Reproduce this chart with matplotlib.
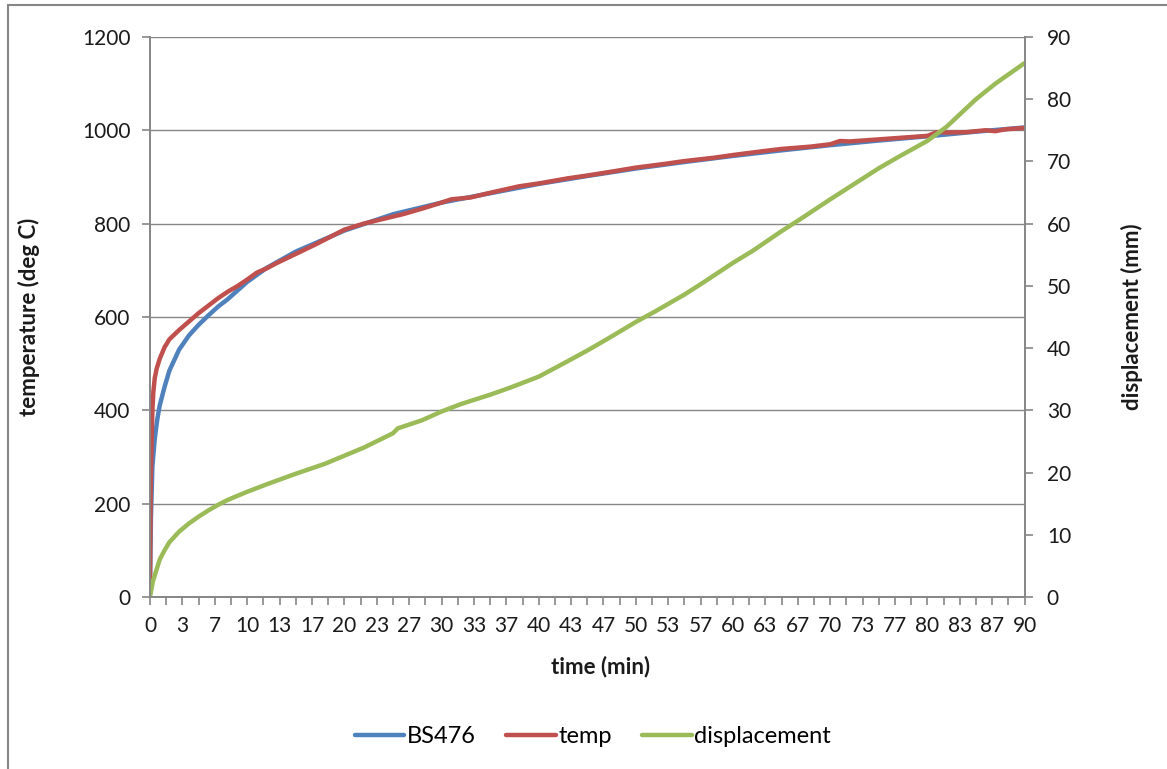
import matplotlib.pyplot as plt
import numpy as np
from matplotlib.patches import Rectangle

plt.rcParams["font.family"] = ["Lato", "DejaVu Sans"]

# values
bs476_t = [0, 0.1, 0.25, 0.5, 0.75, 1, 1.5, 2, 3, 4, 5, 6, 7, 8, 10, 12, 15,
           20, 25, 30, 35, 40, 45, 50, 55, 60, 65, 70, 75, 80, 85, 90]
bs476_v = [20, 170, 280, 340, 380, 410, 450, 485, 530, 560, 583, 603, 622, 638,
           675, 705, 740, 785, 820, 845, 865, 885, 902, 918, 932, 945, 957, 968,
           978, 987, 997, 1006]

temp_t = [0, 0.08, 0.17, 0.25, 0.35, 0.5, 0.7, 1, 1.5, 2, 3, 4, 5, 6, 7, 8, 9,
          10, 11, 12, 13, 15, 17, 20, 22, 24, 26, 28, 30, 31, 33, 35, 38, 40,
          43, 45, 48, 50, 53, 55, 58, 60, 63, 65, 68, 70, 71, 72, 74, 76, 78,
          80, 81, 82, 84, 86, 87, 88, 90]
temp_v = [20, 250, 330, 400, 440, 470, 490, 510, 535, 552, 572, 590, 608, 624,
          640, 654, 666, 680, 695, 704, 715, 735, 755, 787, 800, 810, 820, 832,
          845, 852, 856, 866, 880, 886, 897, 903, 913, 920, 928, 934, 941, 947,
          955, 960, 965, 970, 977, 976, 979, 982, 985, 988, 996, 995, 996, 1000,
          998, 1002, 1005]

disp_t = [0, 0.3, 0.7, 1, 1.5, 2, 3, 4, 5, 6, 7, 8, 10, 12, 15, 18, 20, 22, 25,
          25.5, 28, 30, 32, 35, 37, 40, 43, 45, 47, 50, 52, 55, 57, 60, 62, 65,
          67, 70, 72, 75, 77, 80, 82, 85, 87, 90]
disp_v = [0, 2.5, 4.5, 6, 7.5, 8.8, 10.5, 11.8, 12.9, 13.9, 14.8, 15.6, 16.9,
          18.1, 19.8, 21.4, 22.7, 24, 26.3, 27.1, 28.4, 29.8, 31, 32.5, 33.6,
          35.4, 37.9, 39.6, 41.4, 44.2, 45.9, 48.6, 50.6, 53.7, 55.6, 58.8,
          60.8, 63.9, 65.9, 68.9, 70.7, 73.3, 75.6, 80.0, 82.5, 85.8]

x_labels = ["0", "3", "7", "10", "13", "17", "20", "23", "27", "30", "33", "37",
            "40", "43", "47", "50", "53", "57", "60", "63", "67", "70", "73",
            "77", "80", "83", "87", "90"]

grey = "#868686"
txt = "#1a1a1a"

fig = plt.figure(figsize=(11.67, 7.69), dpi=100)
ax = fig.add_axes([0.1285, 0.2237, 0.7495, 0.7283])
ax2 = ax.twinx()

l1, = ax.plot(bs476_t, bs476_v, color="#4F81BD", lw=3.2, label="BS476",
              solid_capstyle="round")
l2, = ax.plot(temp_t, temp_v, color="#C0504D", lw=3.2, label="temp",
              solid_capstyle="round")
l3, = ax2.plot(disp_t, disp_v, color="#9BBB59", lw=3.2, label="displacement",
               solid_capstyle="round")

ax.set_xlim(0, 90)
ax.set_ylim(0, 1200)
ax2.set_ylim(0, 90)
ax.set_yticks(np.arange(0, 1201, 200))
ax2.set_yticks(np.arange(0, 91, 10))

# category-style x axis: a tick every half label step
tick_pos = np.linspace(0, 90, 2 * len(x_labels) - 1)
ax.set_xticks(tick_pos)
ax.set_xticklabels([x_labels[i // 2] if i % 2 == 0 else "" for i in range(len(tick_pos))])

ax.grid(axis="y", color=grey, lw=1)
ax.set_axisbelow(True)
for a in (ax, ax2):
    a.spines["top"].set_visible(False)
    for s in ("left", "right", "bottom"):
        a.spines[s].set_color(grey)
        a.spines[s].set_linewidth(1.2)
    a.tick_params(colors=grey, labelcolor=txt, labelsize=15, length=6, width=1.2)
ax.tick_params(axis="x", pad=8)
ax.tick_params(axis="y", pad=8)
ax2.tick_params(axis="y", pad=10)

ax.set_xlabel("time (min)", fontsize=16, fontweight="bold", color=txt, labelpad=16)
ax.xaxis.set_label_coords(0.515, -0.105)
ax.set_ylabel("temperature (deg C)", fontsize=16, fontweight="bold", color=txt,
              labelpad=30)
ax2.set_ylabel("displacement (mm)", fontsize=16, fontweight="bold", color=txt,
               labelpad=36)

fig.legend(handles=[l1, l2, l3], loc="center", bbox_to_anchor=(0.508, 0.042),
           ncol=3, frameon=False, fontsize=17, handlelength=2.1,
           columnspacing=1.3, handletextpad=0.1)

fig.patches.append(Rectangle((8 / 1167, -0.1), 1.2, 1.1 - 5 / 769,
                             transform=fig.transFigure, fill=False,
                             edgecolor=grey, lw=1.5))

fig.savefig("out.png", dpi=100, facecolor="white")
